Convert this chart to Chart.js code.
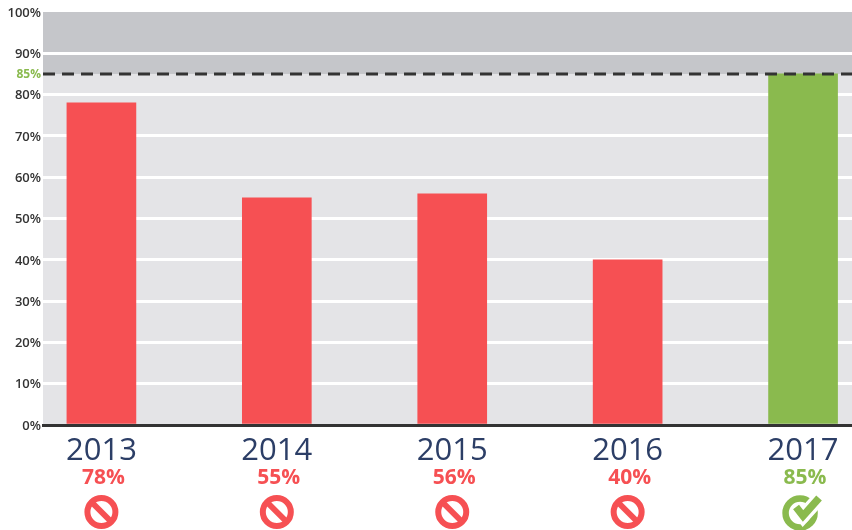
<!DOCTYPE html>
<html>
<head>
<meta charset="utf-8">
<style>
  html, body { margin: 0; padding: 0; background: #fff; }
  canvas { display: block; }
</style>
<script src="https://cdn.jsdelivr.net/npm/chart.js@4/dist/chart.umd.min.js"></script>
</head>
<body>
<canvas id="myChart" width="852" height="530"></canvas>
<script>
const years = [2013, 2014, 2015, 2016, 2017];
const values = [78, 55, 56, 40, 85];
const target = 85;
const yTicks = [0, 10, 20, 30, 40, 50, 60, 70, 80, 85, 90, 100];
const xRange = [2012.667, 2017.279];

const RED = '#f65053';
const GREEN = '#8aba4e';
const FONT = '"Open Sans", "Noto Sans", sans-serif';

const colorFor = (v) => (v >= target ? GREEN : RED);

function drawBan(ctx, x, y, color) {
  ctx.save();
  ctx.translate(x, y);
  ctx.strokeStyle = color;
  ctx.lineWidth = 6;
  ctx.beginPath();
  ctx.arc(0, 0, 14, 0, Math.PI * 2);
  ctx.stroke();
  ctx.beginPath();
  ctx.moveTo(-10, -10);
  ctx.lineTo(10, 10);
  ctx.stroke();
  ctx.restore();
}

function drawCheck(ctx, x, y, color) {
  ctx.save();
  ctx.translate(x, y);
  ctx.strokeStyle = color;
  ctx.lineWidth = 6.5;
  ctx.beginPath();
  ctx.arc(-3, 1, 14.5, 0, Math.PI * 2);
  ctx.stroke();
  // white halo cuts the ring where the tick crosses it
  ctx.strokeStyle = '#fff';
  ctx.lineWidth = 14;
  ctx.beginPath();
  ctx.moveTo(-7, -5);
  ctx.lineTo(0, 4);
  ctx.lineTo(19, -17);
  ctx.stroke();
  ctx.strokeStyle = color;
  ctx.lineWidth = 7.5;
  ctx.beginPath();
  ctx.moveTo(-7, -5);
  ctx.lineTo(0, 4);
  ctx.lineTo(16, -14);
  ctx.stroke();
  ctx.restore();
}

const bandPlugin = {
  id: 'band',
  beforeDraw(chart) {
    const { ctx, chartArea: a, scales: { y } } = chart;
    ctx.save();
    ctx.fillStyle = '#e4e4e7';
    ctx.fillRect(a.left, a.top, a.right - a.left, a.bottom - a.top);
    ctx.fillStyle = '#c5c6ca';
    ctx.fillRect(a.left, y.getPixelForValue(100), a.right - a.left, y.getPixelForValue(target) - y.getPixelForValue(100));
    ctx.restore();
  }
};

const underPlugin = {
  id: 'under',
  afterDraw(chart) {
    const { ctx, scales: { x } } = chart;
    ctx.save();
    ctx.textAlign = 'center';
    ctx.textBaseline = 'middle';
    ctx.font = 'bold 21px ' + FONT;
    years.forEach((year, i) => {
      const px = x.getPixelForValue(year);
      const color = colorFor(values[i]);
      ctx.fillStyle = color;
      ctx.fillText(values[i] + '%', px + 2, 478);
      if (values[i] >= target) drawCheck(ctx, px, 512, color);
      else drawBan(ctx, px, 512, color);
    });
    ctx.restore();
  }
};

new Chart(document.getElementById('myChart').getContext('2d'), {
  data: {
    datasets: [
      {
        type: 'line',
        data: xRange.map((x) => ({ x: x, y: target })),
        borderColor: '#333333',
        borderWidth: 3,
        borderDash: [12, 7],
        pointRadius: 0,
        order: 0
      },
      {
        type: 'bar',
        data: years.map((year, i) => ({ x: year, y: values[i] })),
        backgroundColor: values.map(colorFor),
        barThickness: 69,
        order: 1
      }
    ]
  },
  options: {
    responsive: false,
    animation: false,
    layout: { padding: { top: 12, right: 0, left: 0, bottom: 0 } },
    plugins: { legend: { display: false }, tooltip: { enabled: false } },
    scales: {
      x: {
        type: 'linear',
        offset: false,
        min: xRange[0],
        max: xRange[1],
        afterBuildTicks: (axis) => { axis.ticks = years.map((v) => ({ value: v })); },
        afterFit: (axis) => { axis.height = 105; },
        grid: { display: false, offset: false },
        border: { color: '#333333', width: 3 },
        ticks: {
          autoSkip: false,
          maxRotation: 0,
          padding: 0,
          color: '#2c3e66',
          font: { family: FONT, size: 31 },
          callback: (v) => String(v)
        }
      },
      y: {
        min: 0,
        max: 100,
        afterBuildTicks: (axis) => { axis.ticks = yTicks.map((v) => ({ value: v })); },
        afterFit: (axis) => { axis.width = 43; },
        border: { display: false },
        grid: {
          drawTicks: false,
          lineWidth: 3,
          color: (c) => ([target, 0, 100].includes(c.tick.value) ? 'rgba(0,0,0,0)' : '#ffffff')
        },
        ticks: {
          autoSkip: false,
          padding: 2,
          labelOffset: 1,
          color: (c) => (c.tick.value === target ? GREEN : '#333333'),
          font: (c) => ({ family: FONT, size: c.tick && c.tick.value === target ? 12 : 13, weight: c.tick && c.tick.value === target ? 'bold' : '600' }),
          callback: (v) => v + '%'
        }
      }
    }
  },
  plugins: [bandPlugin, underPlugin]
});
</script>
</body>
</html>
